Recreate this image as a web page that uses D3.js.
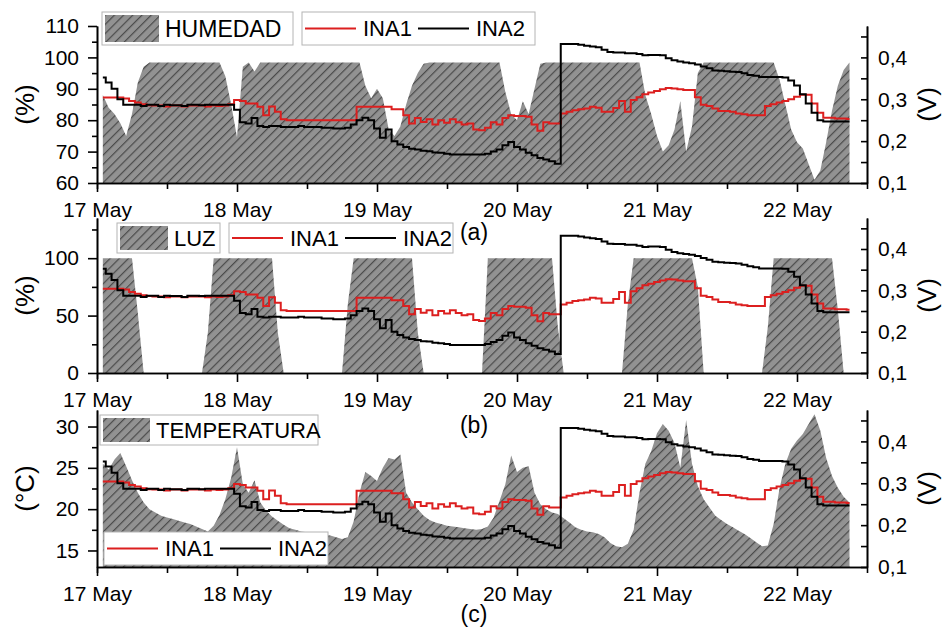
<!DOCTYPE html>
<html>
<head>
<meta charset="utf-8">
<script src="https://cdn.jsdelivr.net/npm/d3@7"></script>
<style>
  body { margin: 0; background: #fff; }
  text { font-family: "Liberation Sans", Arial, sans-serif; fill: #000; }
</style>
</head>
<body>
<svg id="chart" width="943" height="637"></svg>
<script>
// hourly samples, first one at 17 May 01:00
var startHour = 1, stepHour = 1;

// sensor voltages (V), shared by the three panels
var ina1 = [
  0.304,0.304,0.304,0.304,0.302,0.296,0.292,0.288,0.286,0.285,0.285,0.283,
  0.285,0.285,0.283,0.285,0.285,0.285,0.283,0.285,0.284,0.285,0.288,0.298,
  0.296,0.290,0.290,0.282,0.262,0.283,0.270,0.252,0.250,0.250,0.250,0.250,
  0.250,0.250,0.250,0.250,0.250,0.250,0.250,0.250,0.282,0.282,0.282,0.282,
  0.282,0.282,0.276,0.276,0.262,0.242,0.255,0.246,0.252,0.240,0.250,0.244,
  0.252,0.245,0.240,0.242,0.228,0.226,0.232,0.245,0.240,0.255,0.262,0.260,
  0.260,0.258,0.240,0.225,0.245,0.242,0.242,0.266,0.270,0.274,0.276,0.278,
  0.282,0.280,0.270,0.270,0.279,0.296,0.270,0.298,0.305,0.312,0.316,0.320,
  0.324,0.327,0.326,0.324,0.322,0.322,0.305,0.287,0.284,0.278,0.272,0.272,
  0.270,0.266,0.264,0.262,0.262,0.262,0.284,0.288,0.292,0.296,0.300,0.306,
  0.311,0.311,0.290,0.268,0.256,0.256,0.254,0.254,0.253
];
var ina2 = [
  0.352,0.340,0.325,0.300,0.287,0.287,0.287,0.284,0.287,0.287,0.284,0.287,
  0.286,0.286,0.284,0.287,0.287,0.286,0.287,0.287,0.287,0.287,0.287,0.275,
  0.245,0.242,0.255,0.236,0.234,0.236,0.236,0.234,0.234,0.234,0.236,0.234,
  0.234,0.234,0.232,0.232,0.230,0.230,0.232,0.240,0.250,0.256,0.250,0.230,
  0.208,0.228,0.200,0.192,0.186,0.182,0.180,0.177,0.176,0.173,0.172,0.170,
  0.168,0.168,0.168,0.168,0.168,0.168,0.170,0.175,0.180,0.190,0.198,0.186,
  0.180,0.172,0.166,0.160,0.156,0.152,0.146,0.432,0.432,0.432,0.430,0.428,
  0.426,0.424,0.418,0.413,0.412,0.412,0.410,0.410,0.408,0.405,0.406,0.406,
  0.405,0.398,0.393,0.390,0.388,0.386,0.383,0.378,0.374,0.369,0.368,0.367,
  0.366,0.365,0.362,0.358,0.356,0.353,0.353,0.353,0.353,0.352,0.345,0.333,
  0.312,0.290,0.268,0.250,0.247,0.247,0.247,0.247,0.247
];

// environment (left axes)
var humedad = [
  88,84,82,79,75,82,92,97,98.4,98.4,98.4,98.4,
  98.4,98.4,98.4,98.4,98.4,98.4,98.4,98.4,98.4,94,85,74.6,
  97,98.4,95.5,98.4,98.4,98.4,98.4,98.4,98.4,98.4,98.4,98.4,
  98.4,98.4,98.4,98.4,98.4,98.4,98.4,98.4,98.4,91,87,90,
  87,77,75,78,85,91,95,98,98.4,98.4,98.4,98.4,
  98.4,98.4,98.4,98.4,98.4,98.4,98.4,98.4,98.4,89,82,80,
  86,82,90,98,98.4,98.4,98.4,98.4,98.4,98.4,98.4,98.4,
  98.4,98.4,98.4,98.4,98.4,98.4,98.4,98.4,98.4,88,82,75,
  70,72,77,86,70,78,95,98.4,98.4,98.4,98.4,98.4,
  98.4,98.4,98.4,98.4,98.4,98.4,98.4,98.4,93,85,77,73,
  71,66,61,64,73,83,91,96,98.4
];
var luz = [
  100,100,100,100,100,100,52,0,0,0,0,0,
  0,0,0,0,0,0,35,100,100,100,100,100,
  100,100,100,100,100,100,35,0,0,0,0,0,
  0,0,0,0,0,0,60,100,100,100,100,100,
  100,100,100,100,100,100,35,0,0,0,0,0,
  0,0,0,0,0,0,100,100,100,100,100,100,
  100,100,100,100,100,100,40,0,0,0,0,0,
  0,0,0,0,0,0,60,100,100,100,100,100,
  100,100,100,100,100,100,75,0,0,0,0,0,
  0,0,0,0,0,0,40,100,100,100,100,100,
  100,100,100,100,100,100,55,0,0
];
var temperatura = [
  25.5,24.8,26.0,26.8,25.2,23.5,22.0,20.8,20.0,19.6,19.2,19.0,
  18.8,18.6,18.4,18.2,17.9,17.6,17.3,18.0,19.3,21.2,23.8,27.5,
  23.0,22.0,23.5,20.8,19.8,19.1,18.6,18.1,17.7,17.5,17.3,17.2,
  17.1,17.0,16.9,16.8,16.6,16.4,16.6,18.5,22.0,24.5,24.0,23.4,
  25.0,26.2,26.0,26.6,22.0,20.8,20.0,19.2,18.7,18.4,18.2,18.0,
  17.9,17.8,17.7,17.6,17.5,17.6,17.9,19.0,21.0,23.0,26.5,24.5,
  25.0,25.2,22.0,20.6,20.0,19.6,19.4,18.9,18.4,17.8,17.5,17.3,
  17.2,17.0,16.6,15.9,15.5,15.4,15.8,17.5,22.0,25.5,27.0,29.2,
  30.3,29.5,28.0,25.0,30.8,25.5,22.8,21.2,20.2,19.2,18.7,18.2,
  17.8,17.4,17.0,16.5,16.0,15.5,15.6,18.2,22.5,25.5,27.3,28.3,
  29.1,30.3,31.5,29.5,26.2,24.0,22.6,21.5,20.8
];

// ticks
var dayTickHours = [0, 24, 48, 72, 96, 120];
var noonTickHours = [12, 36, 60, 84, 108];
var voltTicks = [0.1, 0.2, 0.3, 0.4];
var voltMinor = [0.15, 0.25, 0.35, 0.45];
var lineNames = ["INA1", "INA2"];

var red = "#dc1f1f";

var t0 = Date.UTC(2019, 4, 17);
function hourDate(h) { return new Date(t0 + h * 3600e3); }
function sampleDate(i) { return hourDate(startHour + i * stepHour); }

var svg = d3.select("#chart");

// hatch fill
var pat = svg.append("defs").append("pattern")
  .attr("id", "hatch")
  .attr("patternUnits", "userSpaceOnUse")
  .attr("width", 6.5).attr("height", 6.5)
  .attr("patternTransform", "rotate(45)");
pat.append("rect").attr("width", 6.5).attr("height", 6.5).attr("fill", "#929292");
pat.append("line").attr("x1", 0.6).attr("y1", 0).attr("x2", 0.6).attr("y2", 6.5)
  .attr("stroke", "#4a4a4a").attr("stroke-width", 1.2);

var x = d3.scaleUtc().domain([hourDate(0), hourDate(132)]).range([97, 867]);

var panels = [
  { label: "(a)", values: humedad, name: "HUMEDAD", top: 26, bottom: 183,
    domain: [60, 110], major: [60, 70, 80, 90, 100, 110], minor: [65, 75, 85, 95, 105],
    title: "(%)", labelY: 240,
    box1: { x: 102, y: 12, w: 191, h: 33, sw: 54, fs: 23 },
    box2: { x: 302, y: 12, w: 233, h: 33, fs: 22 } },
  { label: "(b)", values: luz, name: "LUZ", top: 218, bottom: 373,
    domain: [0, 135], major: [0, 50, 100], minor: [25, 75, 125],
    title: "(%)", labelY: 433,
    box1: { x: 117, y: 223, w: 103, h: 30, sw: 48, fs: 22 },
    box2: { x: 229, y: 223, w: 224, h: 30, fs: 22 } },
  { label: "(c)", values: temperatura, name: "TEMPERATURA", top: 410, bottom: 567,
    domain: [13, 32], major: [15, 20, 25, 30], minor: [17.5, 22.5, 27.5],
    title: "(°C)", labelY: 622,
    box1: { x: 100, y: 415, w: 218, h: 30, sw: 47, fs: 22 },
    box2: { x: 104, y: 532, w: 224, h: 33, fs: 22 } }
];

function styleAxis(g, fs) {
  g.attr("font-family", null).attr("font-size", null);
  g.selectAll("path, line").attr("stroke", "#000").attr("stroke-width", 1.6);
  g.selectAll("text").style("font-size", fs + "px");
}

panels.forEach(function(p) {
  var yL = d3.scaleLinear().domain(p.domain).range([p.bottom, p.top]);
  var yR = d3.scaleLinear().domain([0.1, 0.475]).range([p.bottom, p.top]);
  var g = svg.append("g");

  // hatched area
  var area = d3.area()
    .x(function(d, i) { return x(sampleDate(i)); })
    .y0(p.bottom)
    .y1(function(d) { return yL(d); });
  g.append("path").datum(p.values)
    .attr("d", area)
    .attr("fill", "url(#hatch)");

  // voltage lines
  var line = d3.line()
    .x(function(d, i) { return x(sampleDate(i)); })
    .y(function(d) { return yR(d); })
    .curve(d3.curveStep);
  g.append("path").datum(ina1).attr("d", line)
    .attr("fill", "none").attr("stroke", red).attr("stroke-width", 2);
  g.append("path").datum(ina2).attr("d", line)
    .attr("fill", "none").attr("stroke", "#000").attr("stroke-width", 2);

  // x axis
  g.append("g").attr("transform", "translate(0," + p.bottom + ")")
    .call(d3.axisBottom(x).tickValues(noonTickHours.map(hourDate)).tickSize(6).tickFormat(""))
    .call(styleAxis, 21);
  g.append("g").attr("transform", "translate(0," + p.bottom + ")")
    .call(d3.axisBottom(x).tickValues(dayTickHours.map(hourDate)).tickSize(9).tickSizeOuter(0)
      .tickPadding(10).tickFormat(d3.utcFormat("%-d %b")))
    .call(styleAxis, 21);

  // left axis
  g.append("g").attr("transform", "translate(97,0)")
    .call(d3.axisLeft(yL).tickValues(p.minor).tickSize(5).tickSizeOuter(0).tickFormat(""))
    .call(styleAxis, 21);
  g.append("g").attr("transform", "translate(97,0)")
    .call(d3.axisLeft(yL).tickValues(p.major).tickSize(9).tickSizeOuter(0).tickPadding(9))
    .call(styleAxis, 21);

  // right axis, ticks pointing in
  var fmtV = function(v) { return d3.format(".1f")(v).replace(".", ","); };
  g.append("g").attr("transform", "translate(867,0)")
    .call(d3.axisRight(yR).tickValues(voltMinor).tickSizeInner(-6).tickSizeOuter(0).tickFormat(""))
    .call(styleAxis, 21);
  g.append("g").attr("transform", "translate(867,0)")
    .call(d3.axisRight(yR).tickValues(voltTicks).tickSizeInner(-6).tickSizeOuter(0)
      .tickPadding(11).tickFormat(fmtV))
    .call(styleAxis, 21);

  // axis titles
  var midY = (p.top + p.bottom) / 2;
  g.append("text")
    .attr("transform", "translate(34," + midY + ") rotate(-90)")
    .attr("text-anchor", "middle")
    .style("font-size", "26px")
    .text(p.title);
  g.append("text")
    .attr("transform", "translate(936," + midY + ") rotate(-90)")
    .attr("text-anchor", "middle")
    .style("font-size", "26px")
    .text("(V)");

  // panel letter
  g.append("text").attr("x", 474).attr("y", p.labelY)
    .attr("text-anchor", "middle").style("font-size", "23px")
    .text(p.label);

  // legend with area swatch
  var b1 = p.box1;
  var l1 = g.append("g");
  l1.append("rect").attr("x", b1.x).attr("y", b1.y).attr("width", b1.w).attr("height", b1.h)
    .attr("fill", "#fff").attr("stroke", "#b4b4b4").attr("stroke-width", 1);
  l1.append("rect").attr("x", b1.x + 3).attr("y", b1.y + 3)
    .attr("width", b1.sw).attr("height", b1.h - 6)
    .attr("fill", "url(#hatch)");
  l1.append("text").attr("x", b1.x + b1.sw + 9).attr("y", b1.y + b1.h / 2 + b1.fs * 0.36)
    .style("font-size", b1.fs + "px").text(p.name);

  // legend with line samples
  var b2 = p.box2;
  var l2 = g.append("g");
  l2.append("rect").attr("x", b2.x).attr("y", b2.y).attr("width", b2.w).attr("height", b2.h)
    .attr("fill", "#fff").attr("stroke", "#b4b4b4").attr("stroke-width", 1);
  var cy = b2.y + b2.h / 2;
  [[3, red], [116, "#000"]].forEach(function(it, k) {
    l2.append("line").attr("x1", b2.x + it[0]).attr("x2", b2.x + it[0] + 51)
      .attr("y1", cy).attr("y2", cy)
      .attr("stroke", it[1]).attr("stroke-width", 2);
    l2.append("text").attr("x", b2.x + it[0] + 58).attr("y", cy + b2.fs * 0.36)
      .style("font-size", b2.fs + "px").text(lineNames[k]);
  });
});
</script>
</body>
</html>
